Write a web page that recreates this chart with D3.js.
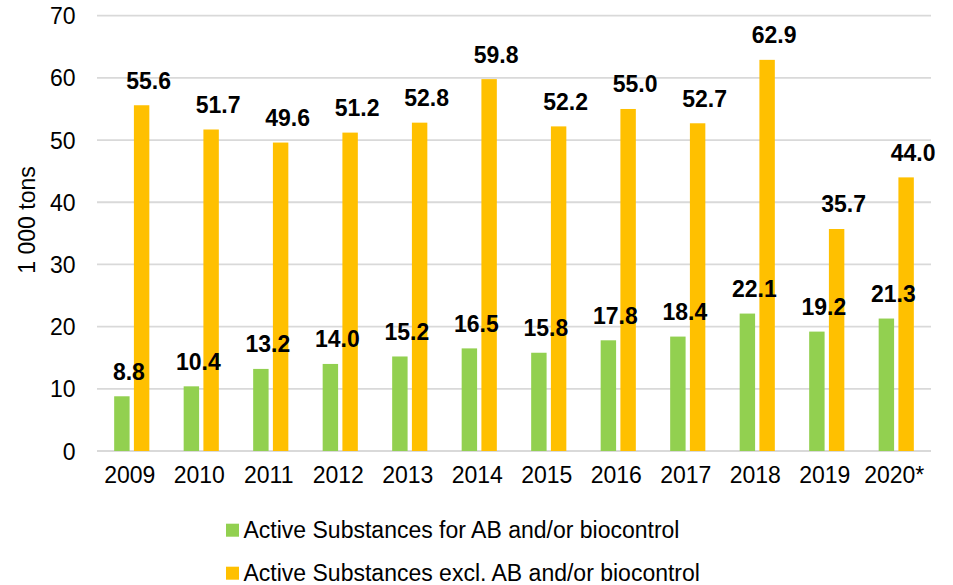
<!DOCTYPE html>
<html>
<head>
<meta charset="utf-8">
<script src="https://cdn.jsdelivr.net/npm/d3@7"></script>
<style>
  html, body { margin: 0; padding: 0; background: #fff; }
  svg { display: block; font-family: "Liberation Sans", Arial, sans-serif; }
</style>
</head>
<body>
<svg id="chart" width="953" height="585"></svg>
<script>
const years = ["2009","2010","2011","2012","2013","2014","2015","2016","2017","2018","2019","2020*"];
const greenValues = [8.8, 10.4, 13.2, 14.0, 15.2, 16.5, 15.8, 17.8, 18.4, 22.1, 19.2, 21.3];
const orangeValues = [55.6, 51.7, 49.6, 51.2, 52.8, 59.8, 52.2, 55.0, 52.7, 62.9, 35.7, 44.0];
const yTicks = [0, 10, 20, 30, 40, 50, 60, 70];
const seriesNames = ["Active Substances for AB and/or biocontrol", "Active Substances excl. AB and/or biocontrol"];
const seriesColors = ["#92D050", "#FFC000"];
const yTitle = "1 000 tons";

const FS = 23;
const svg = d3.select("#chart");
const plotLeft = 97, plotRight = 931, plotTop = 15.7, plotBottom = 451;

const x = d3.scaleBand().domain(years).range([plotLeft, plotRight]).paddingInner(0).paddingOuter(0);
const y = d3.scaleLinear().domain([0, 70]).range([plotBottom, plotTop]);

const step = x.bandwidth();
const barW = step * 0.222;
const gap = step * 0.062;

// gridlines
svg.append("g").selectAll("line").data(yTicks).join("line")
  .attr("x1", plotLeft).attr("x2", plotRight)
  .attr("y1", d => y(d)).attr("y2", d => y(d))
  .attr("stroke", "#d9d9d9").attr("stroke-width", 1.8);

// y tick labels
const yAxis = d3.axisLeft(y).tickValues(yTicks).tickSize(0).tickPadding(0);
const gy = svg.append("g").attr("transform", `translate(${plotLeft - 21.5},0)`).call(yAxis);
gy.select(".domain").remove();
gy.selectAll("text").attr("font-size", FS).attr("fill", "#000")
  .attr("font-family", "Liberation Sans, Arial, sans-serif").attr("text-anchor", "end").attr("dy", "0.35em");

// x tick labels
const xAxis = d3.axisBottom(x).tickSize(0).tickPadding(0);
const gx = svg.append("g").attr("transform", `translate(-2,${plotBottom})`).call(xAxis);
gx.select(".domain").remove();
gx.selectAll("text").attr("font-size", FS).attr("fill", "#000")
  .attr("font-family", "Liberation Sans, Arial, sans-serif").attr("y", 32).attr("dy", 0);

const series = [greenValues, orangeValues];
const offs = [step / 2 - gap / 2 - barW, step / 2 + gap / 2];
const barLayer = svg.append("g");
const labelLayer = svg.append("g");
series.forEach((vals, si) => {
  const off = offs[si];
  barLayer.append("g").selectAll("rect").data(vals).join("rect")
    .attr("x", (d, i) => x(years[i]) + off)
    .attr("width", barW)
    .attr("y", d => y(d))
    .attr("height", d => plotBottom - y(d))
    .attr("fill", seriesColors[si]);
  labelLayer.append("g").selectAll("text").data(vals).join("text")
    .attr("x", (d, i) => x(years[i]) + off + barW / 2 + 7)
    .attr("y", d => y(d) - 16.5)
    .attr("text-anchor", "middle")
    .attr("font-size", FS).attr("font-weight", "bold").attr("fill", "#000")
    .text(d => d.toFixed(1));
});

// y title
svg.append("text")
  .attr("transform", "translate(35,220) rotate(-90)")
  .attr("text-anchor", "middle")
  .attr("font-size", FS).attr("fill", "#000")
  .text(yTitle);

// legend
const lg = svg.append("g");
seriesNames.forEach((name, i) => {
  const yy = 523.7 + i * 43;
  lg.append("rect").attr("x", 226).attr("y", yy).attr("width", 13).attr("height", 13).attr("fill", seriesColors[i]);
  lg.append("text").attr("x", 243.5).attr("y", yy + 14.5)
    .attr("font-size", FS).attr("fill", "#000").text(name);
});
</script>
</body>
</html>
